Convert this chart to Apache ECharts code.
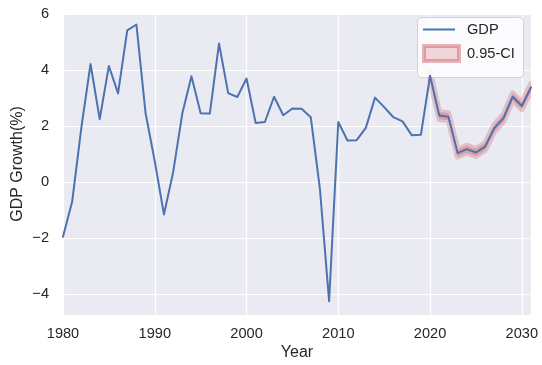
<!DOCTYPE html>
<html>
<head>
<meta charset="utf-8">
<script src="https://cdn.jsdelivr.net/npm/echarts@6/dist/echarts.min.js"></script>
<style>
  html, body { margin: 0; padding: 0; background: #ffffff; }
  #chart { width: 542px; height: 365px; }
</style>
</head>
<body>
<div id="chart"></div>
<script>
// Annual real GDP growth (%), history plus forecast
const years = [
  1980, 1981, 1982, 1983, 1984, 1985, 1986, 1987, 1988, 1989,
  1990, 1991, 1992, 1993, 1994, 1995, 1996, 1997, 1998, 1999,
  2000, 2001, 2002, 2003, 2004, 2005, 2006, 2007, 2008, 2009,
  2010, 2011, 2012, 2013, 2014, 2015, 2016, 2017, 2018, 2019,
  2020, 2021, 2022, 2023, 2024, 2025, 2026, 2027, 2028, 2029,
  2030, 2031
];
const gdpGrowth = [
  -1.95, -0.69, 1.95, 4.22, 2.25, 4.15, 3.17, 5.42, 5.63, 2.46,
  0.75, -1.15, 0.35, 2.45, 3.78, 2.46, 2.45, 4.95, 3.18, 3.04,
  3.70, 2.11, 2.15, 3.05, 2.39, 2.63, 2.62, 2.32, -0.25, -4.25,
  2.15, 1.49, 1.50, 1.94, 3.02, 2.68, 2.32, 2.17, 1.68, 1.69,
  3.80, 2.38, 2.34, 1.04, 1.18, 1.06, 1.27, 1.93, 2.29, 3.05,
  2.72, 3.38
];

// 95% confidence interval of the forecast period
const ciYears = [2020, 2021, 2022, 2023, 2024, 2025, 2026, 2027, 2028, 2029, 2030, 2031];
const ciLower = [3.67, 2.25, 2.21, 0.91, 1.05, 0.93, 1.14, 1.80, 2.16, 2.92, 2.59, 3.25];
const ciUpper = [3.93, 2.51, 2.47, 1.17, 1.31, 1.19, 1.40, 2.06, 2.42, 3.18, 2.85, 3.51];

const xTicks = [1980, 1990, 2000, 2010, 2020, 2030];
const yTicks = [-4, -2, 0, 2, 4, 6];

const FONT = '"Liberation Sans", Arial, sans-serif';
const TEXT = '#262626';
const BLUE = '#4C72B0';
const CI_FILL = 'rgba(196,78,82,0.28)';
const CI_EDGE = 'rgba(196,78,82,0.28)';

const gdpData = years.map((y, i) => [y, gdpGrowth[i]]);
const ciData = ciYears.map((y, i) => [y, ciLower[i], ciUpper[i]]);

function fmtTick(list) {
  return function (v) {
    if (list.indexOf(Math.round(v * 1000) / 1000) < 0) return '';
    return v < 0 ? '\u2212' + Math.abs(v) : String(v);
  };
}

// Band polygon: upper bound left to right, then lower bound back
function renderBand(params, api) {
  if (params.dataIndex !== 0) return null;
  const upper = ciData.map(d => api.coord([d[0], d[2]]));
  const lower = ciData.map(d => api.coord([d[0], d[1]])).reverse();
  return {
    type: 'polygon',
    shape: { points: upper.concat(lower) },
    style: { fill: CI_FILL, stroke: CI_EDGE, lineWidth: 5.5, lineJoin: 'round' }
  };
}

const chart = echarts.init(document.getElementById('chart'), null, { renderer: 'canvas' });

chart.setOption({
  animation: false,
  backgroundColor: '#ffffff',
  textStyle: { fontFamily: FONT, color: TEXT },
  grid: {
    left: 63, right: 11, top: 13, bottom: 50,
    outerBoundsMode: 'none',
    containLabel: false,
    show: true, backgroundColor: '#EAEAF2', borderWidth: 0
  },
  xAxis: {
    type: 'value',
    min: 1980, max: 2031, interval: 10,
    axisLine: { show: false },
    axisTick: { show: false },
    splitLine: { show: true, lineStyle: { color: '#ffffff', width: 1.2 } },
    axisLabel: {
      color: TEXT, fontFamily: FONT, fontSize: 14.6, margin: 11,
      formatter: fmtTick(xTicks)
    },
    name: 'Year',
    nameLocation: 'middle',
    nameGap: 30,
    nameMoveOverlap: false,
    nameTextStyle: { color: TEXT, fontFamily: FONT, fontSize: 16 }
  },
  yAxis: {
    type: 'value',
    min: -4.74, max: 6.04, splitNumber: 5,
    axisLine: { show: false },
    axisTick: { show: false },
    splitLine: { show: true, lineStyle: { color: '#ffffff', width: 1.2 } },
    axisLabel: {
      color: TEXT, fontFamily: FONT, fontSize: 14.6, margin: 14,
      formatter: fmtTick(yTicks)
    },
    name: 'GDP Growth(%)',
    nameLocation: 'middle',
    nameGap: 37,
    nameMoveOverlap: false,
    nameTextStyle: { color: TEXT, fontFamily: FONT, fontSize: 16 }
  },
  graphic: [{
    type: 'rect',
    left: 417, top: 17, z: 3,
    shape: { width: 106, height: 60, r: 4 },
    style: { fill: 'rgba(255,255,255,0.8)', stroke: '#d0d0d6', lineWidth: 1 }
  }],
  legend: [{
    data: [{ name: 'GDP', icon: 'rect', itemStyle: { color: BLUE } }],
    left: 423, top: 22, padding: 0,
    itemWidth: 32, itemHeight: 2,
    selectedMode: false, z: 5,
    textStyle: { color: TEXT, fontFamily: FONT, fontSize: 14.6, padding: [0, 0, 0, 7] }
  }, {
    data: [{
      name: '0.95-CI', icon: 'rect',
      itemStyle: { color: 'rgba(196,78,82,0.22)', borderColor: 'rgba(196,78,82,0.42)', borderWidth: 4 }
    }],
    left: 422, top: 44, padding: 0,
    itemWidth: 35, itemHeight: 15,
    selectedMode: false, z: 5,
    textStyle: { color: TEXT, fontFamily: FONT, fontSize: 14.6, padding: [0, 0, 0, 3] }
  }],
  series: [{
    name: '0.95-CI',
    type: 'custom',
    clip: true,
    z: 2,
    itemStyle: { color: CI_FILL },
    encode: { x: 0, y: [1, 2] },
    data: ciData,
    renderItem: renderBand
  }, {
    name: 'GDP',
    type: 'line',
    z: 3,
    clip: true,
    symbol: 'none',
    lineStyle: { color: BLUE, width: 2, join: 'round', cap: 'round' },
    itemStyle: { color: BLUE },
    data: gdpData
  }]
});
</script>
</body>
</html>
